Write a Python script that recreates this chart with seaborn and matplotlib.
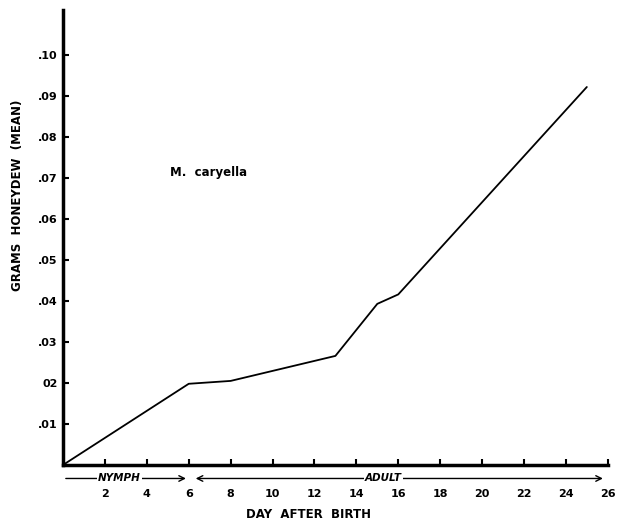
# Honeydew production of M. caryella by day after birth
import numpy as np
import pandas as pd
import matplotlib
matplotlib.use('Agg')
import matplotlib.pyplot as plt
import seaborn as sns

# dados
dias = [0, 6, 8, 13, 15, 16, 25]
honeydew = [0.0, 0.0198, 0.0205, 0.0266, 0.0393, 0.0416, 0.0922]
x_ticks = [2, 4, 6, 8, 10, 12, 14, 16, 18, 20, 22, 24, 26]
y_ticks = [0.01, 0.02, 0.03, 0.04, 0.05, 0.06, 0.07, 0.08, 0.09, 0.10]
y_labels = ['.01', '02', '.03', '.04', '.05', '.06', '.07', '.08', '.09', '.10']

df = pd.DataFrame({'Dia': dias, 'Honeydew': honeydew})

sns.set_style('ticks', {'axes.edgecolor': 'black', 'xtick.color': 'black',
                        'ytick.color': 'black', 'text.color': 'black',
                        'axes.labelcolor': 'black'})
plt.rcParams['font.family'] = ['DejaVu Sans']

fig = plt.figure(figsize=(6.24, 5.23), dpi=100)
ax = fig.add_axes([0.101, 0.111, 0.873, 0.870])

sns.lineplot(data=df, x='Dia', y='Honeydew', color='black', linewidth=1.3, ax=ax)

ax.set_xlim(0, 26)
ax.set_ylim(0, 0.111)
ax.set_xticks(x_ticks)
ax.set_xticklabels([str(t) for t in x_ticks], fontsize=8, fontweight='bold')
ax.set_yticks(y_ticks)
ax.set_yticklabels(y_labels, fontsize=8, fontweight='bold')
ax.tick_params(axis='x', direction='in', length=4, width=1.5, pad=17)
ax.tick_params(axis='y', direction='in', length=4, width=1.5, pad=4)

sns.despine(ax=ax)
ax.spines['left'].set_linewidth(2.5)
ax.spines['bottom'].set_linewidth(2.5)

ax.set_xlabel('DAY  AFTER  BIRTH', fontsize=8.5, fontweight='bold', x=0.45, labelpad=7)
ax.set_ylabel('GRAMS  HONEYDEW  (MEAN)', fontsize=8.5, fontweight='bold', y=0.593, labelpad=10)

# texto da especie
ax.text(5.1, 0.0705, 'M.  caryella', fontsize=8.5, fontweight='bold')

# setas de fase
y_seta = -0.0033
ax.annotate('', xy=(6, y_seta), xytext=(0, y_seta), xycoords='data',
            arrowprops=dict(arrowstyle='->', color='black', lw=1), annotation_clip=False)
ax.annotate('', xy=(6.2, y_seta), xytext=(25.9, y_seta), xycoords='data',
            arrowprops=dict(arrowstyle='<->', color='black', lw=1), annotation_clip=False)
ax.text(2.7, y_seta, 'NYMPH', fontsize=7.5, fontweight='bold', fontstyle='italic',
        ha='center', va='center', clip_on=False,
        bbox=dict(facecolor='white', edgecolor='none', pad=1))
ax.text(15.3, y_seta, 'ADULT', fontsize=7.5, fontweight='bold', fontstyle='italic',
        ha='center', va='center', clip_on=False,
        bbox=dict(facecolor='white', edgecolor='none', pad=1))

plt.savefig('out.png', dpi=100)
